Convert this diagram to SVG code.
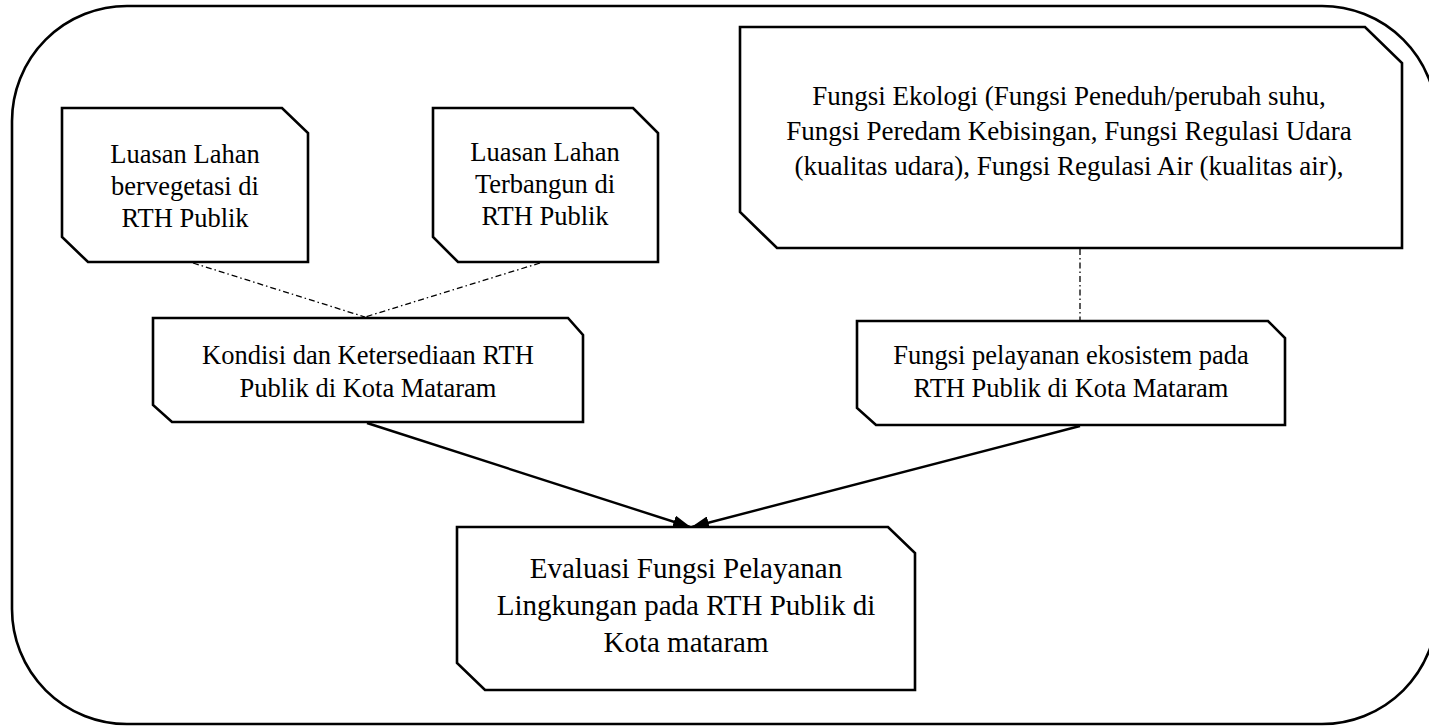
<svg xmlns="http://www.w3.org/2000/svg" width="1429" height="726" viewBox="0 0 1429 726">
  <style>
    .frame { fill: #ffffff; stroke: #000000; stroke-width: 2.6; }
    .box { fill: #ffffff; stroke: #000000; stroke-width: 2.6; stroke-linejoin: miter; }
    .label { font-family: "Liberation Serif", "Times New Roman", serif; fill: #000000; text-anchor: middle; }
    .t26 { font-size: 26.5px; }
    .t27 { font-size: 27px; }
    .t29 { font-size: 29px; }
    .dashdot { fill: none; stroke: #000000; stroke-width: 1.3; stroke-dasharray: 6 3 1.5 3; }
    .arrow { fill: none; stroke: #000000; stroke-width: 2.4; marker-end: url(#head); }
  </style>
  <defs>
    <marker id="head" viewBox="0 0 18 13" refX="17" refY="6.5" markerWidth="18" markerHeight="13" markerUnits="userSpaceOnUse" orient="auto">
      <path d="M0,0 L18,6.5 L0,13 Z" fill="#000000"/>
    </marker>
  </defs>

  <rect width="1429" height="726" fill="#ffffff"/>

  <!-- outer rounded frame -->
  <rect class="frame" x="12" y="6" width="1425" height="718" rx="115" ry="115"/>

  <!-- connectors -->
  <g id="connectors">
    <line class="dashdot" x1="193" y1="263" x2="365" y2="317"/>
    <line class="dashdot" x1="540" y1="263" x2="365" y2="317"/>
    <line class="dashdot" x1="1080" y1="249" x2="1080" y2="320"/>
    <line class="arrow" x1="367" y1="423" x2="690" y2="527"/>
    <line class="arrow" x1="1080" y1="426" x2="692" y2="527"/>
  </g>

  <g id="luasan-vegetasi">
    <path class="box" d="M62,108 H282 L308,133 V262 H88 L62,237 Z"/>
    <text class="label t26" x="185" y="163">Luasan Lahan</text>
    <text class="label t26" x="185" y="195">bervegetasi di</text>
    <text class="label t26" x="185" y="227">RTH Publik</text>
  </g>

  <g id="luasan-terbangun">
    <path class="box" d="M433,108 H633 L658,133 V262 H458 L433,237 Z"/>
    <text class="label t26" x="545" y="161">Luasan Lahan</text>
    <text class="label t26" x="545" y="193">Terbangun di</text>
    <text class="label t26" x="545" y="225">RTH Publik</text>
  </g>

  <g id="fungsi-ekologi">
    <path class="box" d="M740,27 H1365 L1402,63 V248 H777 L740,212 Z"/>
    <text class="label t27" x="1069" y="105">Fungsi Ekologi (Fungsi Peneduh/perubah suhu,</text>
    <text class="label t27" x="1069" y="140">Fungsi Peredam Kebisingan, Fungsi Regulasi Udara</text>
    <text class="label t27" x="1069" y="175">(kualitas udara), Fungsi Regulasi Air (kualitas air),</text>
  </g>

  <g id="kondisi-ketersediaan">
    <path class="box" d="M153,318 H568 L583,335 V422 H172 L153,405 Z"/>
    <text class="label t26" x="368" y="364">Kondisi dan Ketersediaan RTH</text>
    <text class="label t26" x="368" y="397">Publik di Kota Mataram</text>
  </g>

  <g id="fungsi-pelayanan">
    <path class="box" d="M857,321 H1268 L1285,338 V425 H876 L857,408 Z"/>
    <text class="label t26" x="1071" y="364">Fungsi pelayanan ekosistem pada</text>
    <text class="label t26" x="1071" y="397">RTH Publik di Kota Mataram</text>
  </g>

  <g id="evaluasi">
    <path class="box" d="M457,527 H888 L915,553 V690 H485 L457,663 Z"/>
    <text class="label t29" x="686" y="578">Evaluasi Fungsi Pelayanan</text>
    <text class="label t29" x="686" y="615">Lingkungan pada RTH Publik di</text>
    <text class="label t29" x="686" y="652">Kota mataram</text>
  </g>
</svg>
